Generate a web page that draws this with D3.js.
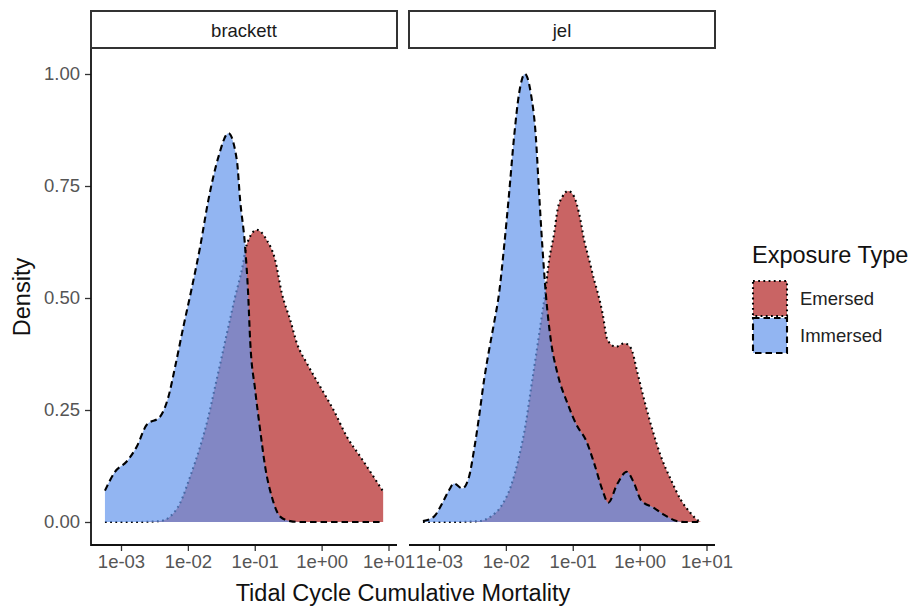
<!DOCTYPE html>
<html>
<head>
<meta charset="utf-8">
<script src="https://cdn.jsdelivr.net/npm/d3@7"></script>
<style>
  body { margin: 0; background: #ffffff; }
  text { font-family: "Liberation Sans", Arial, Helvetica, sans-serif; }
</style>
</head>
<body>
<svg id="chart" width="913" height="610"></svg>
<script>
// ---- data ---------------------------------------------------------------
const facets = ["brackett", "jel"];
const exposureTypes = ["Emersed", "Immersed"];

const xTickValues = [1e-3, 1e-2, 1e-1, 1e0, 1e1];
const xTickLabels = ["1e-03", "1e-02", "1e-01", "1e+00", "1e+01"];
const yTickValues = [0, 0.25, 0.5, 0.75, 1.0];
const yTickLabels = ["0.00", "0.25", "0.50", "0.75", "1.00"];

// density estimates on log10(mortality)
const brackettEmersedLog10 = [-3.24, -2.8, -2.416, -2.266, -2.117, -1.967, -1.817, -1.693, -1.593, -1.493, -1.394, -1.293, -1.193, -1.118, -0.969, -0.819, -0.695, -0.594, -0.47, -0.37, -0.22, -0.021, 0.178, 0.379, 0.578, 0.777, 0.92];
const brackettEmersedDensity = [0, 0, 0.002, 0.012, 0.042, 0.101, 0.168, 0.235, 0.302, 0.369, 0.436, 0.503, 0.5625, 0.62, 0.652, 0.629, 0.585, 0.51, 0.451, 0.399, 0.354, 0.302, 0.25, 0.19, 0.146, 0.101, 0.068];

const brackettImmersedLog10 = [-3.24, -3.09, -2.915, -2.765, -2.615, -2.416, -2.29, -2.19, -2.067, -1.952, -1.817, -1.693, -1.543, -1.394, -1.268, -1.219, -1.144, -1.099, -1.069, -0.994, -0.919, -0.844, -0.744, -0.62, -0.47, -0.32, 0.3, 0.92];
const brackettImmersedDensity = [0.07, 0.112, 0.135, 0.168, 0.217, 0.235, 0.28, 0.347, 0.436, 0.515, 0.614, 0.719, 0.815, 0.868, 0.808, 0.719, 0.614, 0.51, 0.406, 0.295, 0.205, 0.123, 0.056, 0.012, 0.002, 0, 0, 0];

const jelEmersedLog10 = [-3.24, -2.8, -2.401, -2.226, -2.076, -1.927, -1.802, -1.702, -1.627, -1.552, -1.478, -1.413, -1.353, -1.278, -1.229, -1.154, -1.069, -0.979, -0.904, -0.829, -0.754, -0.68, -0.63, -0.555, -0.48, -0.355, -0.231, -0.13, -0.031, 0.069, 0.193, 0.319, 0.469, 0.618, 0.768, 0.867, 0.92];
const jelEmersedDensity = [0, 0, 0.002, 0.012, 0.034, 0.079, 0.146, 0.22, 0.295, 0.369, 0.444, 0.51, 0.585, 0.644, 0.696, 0.726, 0.739, 0.726, 0.688, 0.629, 0.585, 0.54, 0.514, 0.466, 0.406, 0.391, 0.399, 0.388, 0.332, 0.272, 0.205, 0.146, 0.094, 0.049, 0.019, 0.004, 0];

const jelImmersedLog10 = [-3.24, -3.075, -2.951, -2.85, -2.775, -2.651, -2.551, -2.476, -2.401, -2.326, -2.251, -2.177, -2.102, -2.027, -1.952, -1.877, -1.802, -1.717, -1.627, -1.552, -1.503, -1.454, -1.403, -1.328, -1.229, -1.079, -0.93, -0.804, -0.68, -0.555, -0.47, -0.331, -0.193, -0.081, 0.019, 0.219, 0.368, 0.518, 0.668, 0.92];
const jelImmersedDensity = [0.002, 0.012, 0.042, 0.071, 0.086, 0.075, 0.101, 0.161, 0.235, 0.317, 0.384, 0.444, 0.51, 0.614, 0.733, 0.86, 0.957, 1.0, 0.957, 0.86, 0.733, 0.614, 0.51, 0.406, 0.332, 0.265, 0.213, 0.183, 0.131, 0.071, 0.043, 0.086, 0.112, 0.086, 0.049, 0.031, 0.016, 0.004, 0, 0];

// ---- styling ------------------------------------------------------------
const fillColor = { Emersed: "rgb(178,34,34)", Immersed: "rgb(100,149,237)" };
const fillOpacity = 0.7;
const dashFor = { Emersed: "1.8,3.4", Immersed: "6.5,4" };
const lineWidth = 2.1;
const axisTextColor = "#555555";

// ---- layout -------------------------------------------------------------
const panelTop = 49, panelBottom = 545, panelWidth = 306;
const panelLefts = [91, 409];
const stripTop = 11, stripBottom = 48;

const svg = d3.select("#chart");
svg.append("rect").attr("width", 913).attr("height", 610).attr("fill", "#fff");

const y = d3.scaleLinear().domain([0, 1]).range([522, 74]);

const seriesFor = {
  brackett: {
    Emersed: d3.zip(brackettEmersedLog10, brackettEmersedDensity),
    Immersed: d3.zip(brackettImmersedLog10, brackettImmersedDensity)
  },
  jel: {
    Emersed: d3.zip(jelEmersedLog10, jelEmersedDensity),
    Immersed: d3.zip(jelImmersedLog10, jelImmersedDensity)
  }
};

facets.forEach((facet, i) => {
  const left = panelLefts[i];
  const x = d3.scaleLog().domain([1e-3, 1e1]).range([left + 30, left + 297.5]);
  const g = svg.append("g");

  const area = d3.area()
    .x(d => x(Math.pow(10, d[0])))
    .y0(y(0))
    .y1(d => y(d[1]))
    .curve(d3.curveMonotoneX);
  const line = d3.line()
    .x(d => x(Math.pow(10, d[0])))
    .y(d => y(d[1]))
    .curve(d3.curveMonotoneX);

  // groups drawn in legend order: each group's fill, then its outline
  exposureTypes.forEach(type => {
    const data = seriesFor[facet][type];
    g.append("path").attr("d", area(data))
      .attr("fill", fillColor[type]).attr("fill-opacity", fillOpacity);
    g.append("path").attr("d", line(data))
      .attr("fill", "none").attr("stroke", "#000")
      .attr("stroke-width", lineWidth)
      .attr("stroke-dasharray", dashFor[type]);
  });

  // strip
  svg.append("rect")
    .attr("x", left).attr("y", stripTop)
    .attr("width", panelWidth).attr("height", stripBottom - stripTop)
    .attr("fill", "#fff").attr("stroke", "#333").attr("stroke-width", 2);
  svg.append("text")
    .attr("x", left + panelWidth / 2).attr("y", (stripTop + stripBottom) / 2 + 1)
    .attr("text-anchor", "middle").attr("dominant-baseline", "central")
    .attr("font-size", 18.5).attr("fill", "#1a1a1a")
    .text(facet);

  // x axis
  const xAxis = d3.axisBottom(x)
    .tickValues(xTickValues)
    .tickFormat((d, k) => xTickLabels[k])
    .tickSize(6).tickSizeOuter(0).tickPadding(4);
  const ax = svg.append("g").attr("transform", `translate(0,${panelBottom})`).call(xAxis);
  ax.select(".domain").remove();
  ax.append("line")
    .attr("x1", left).attr("x2", left + panelWidth)
    .attr("stroke", "#111").attr("stroke-width", 1.8);
  ax.selectAll(".tick line").attr("stroke", "#333").attr("stroke-width", 1.3);
  ax.selectAll(".tick text")
    .attr("font-size", 18.5).attr("fill", axisTextColor)
    .attr("font-family", '"Liberation Sans", Arial, sans-serif');
});

// y axis on the first panel only
const yAxis = d3.axisLeft(y)
  .tickValues(yTickValues)
  .tickFormat((d, k) => yTickLabels[k])
  .tickSize(6).tickSizeOuter(0).tickPadding(5);
const ay = svg.append("g").attr("transform", `translate(${panelLefts[0]},0)`).call(yAxis);
ay.select(".domain").remove();
ay.append("line")
  .attr("y1", panelTop).attr("y2", panelBottom + 0.9)
  .attr("stroke", "#111").attr("stroke-width", 1.8);
ay.selectAll(".tick line").attr("stroke", "#333").attr("stroke-width", 1.3);
ay.selectAll(".tick text")
  .attr("font-size", 18.5).attr("fill", axisTextColor)
  .attr("font-family", '"Liberation Sans", Arial, sans-serif');

// axis titles
svg.append("text")
  .attr("x", (panelLefts[0] + panelLefts[1] + panelWidth) / 2).attr("y", 601)
  .attr("text-anchor", "middle").attr("font-size", 23.5).attr("fill", "#111")
  .text("Tidal Cycle Cumulative Mortality");
svg.append("text")
  .attr("transform", "translate(30,297) rotate(-90)")
  .attr("text-anchor", "middle").attr("font-size", 23.5).attr("fill", "#111")
  .text("Density");

// legend
const legend = svg.append("g").attr("transform", "translate(752,0)");
legend.append("text").attr("x", 0).attr("y", 263)
  .attr("font-size", 23.5).attr("fill", "#111").text("Exposure Type");
exposureTypes.forEach((type, k) => {
  const top = 280 + k * 37;
  legend.append("rect")
    .attr("x", 1).attr("y", top + 1).attr("width", 34).attr("height", 35)
    .attr("fill", fillColor[type]).attr("fill-opacity", fillOpacity)
    .attr("stroke", "#000").attr("stroke-width", lineWidth)
    .attr("stroke-dasharray", dashFor[type]);
  legend.append("text")
    .attr("x", 48).attr("y", top + 18.5)
    .attr("dominant-baseline", "central")
    .attr("font-size", 18.5).attr("fill", "#222")
    .text(type);
});
</script>
</body>
</html>
